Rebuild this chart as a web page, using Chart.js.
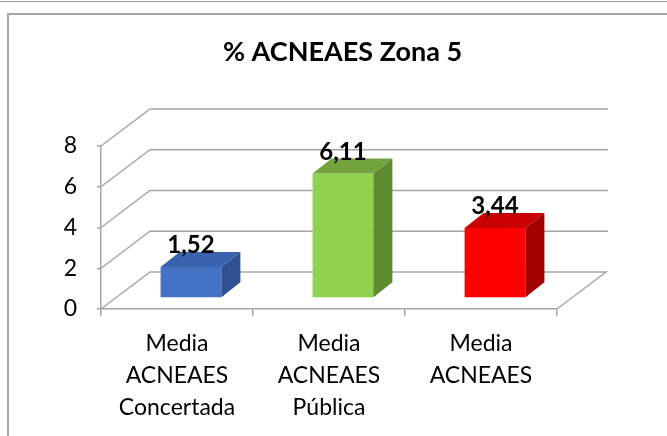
<!DOCTYPE html>
<html>
<head>
<meta charset="utf-8">
<script src="https://cdn.jsdelivr.net/npm/chart.js@4/dist/chart.umd.min.js"></script>
<style>
  html, body { margin: 0; padding: 0; background: #fff; }
  #wrap { position: relative; width: 667px; height: 436px; overflow: hidden; }
  #topline { position: absolute; left: 0; top: 1px; width: 667px; height: 1px; background: #9a9a9a; }
  #frame { position: absolute; left: 7px; top: 13px; width: 700px; height: 500px;
           border-left: 2px solid #a6a6a6; border-top: 2px solid #a6a6a6; }
  canvas { position: absolute; left: 0; top: 0; }
</style>
</head>
<body>
<div id="wrap">
  <div id="topline"></div>
  <div id="frame"></div>
  <canvas id="c" width="667" height="436"></canvas>
</div>
<script>
// ---- data ----
const categories = [
  ['Media', 'ACNEAES', 'Concertada'],
  ['Media', 'ACNEAES', 'Pública'],
  ['Media', 'ACNEAES']
];
const values = [1.52, 6.11, 3.44];
const yTicks = [0, 2, 4, 6, 8];
const frontColors = ['#4472C4', '#92D050', '#FF0000'];
const topColors   = ['#3A63AE', '#72A33E', '#C80000'];
const sideColors  = ['#2E5290', '#5E8A31', '#A30000'];

const FONT = 'Lato, "Open Sans", sans-serif';
// 3D geometry
const WALL_DX = 49, WALL_DY = 37;    // depth of the floor/walls
const BAR_OX = 14, BAR_OY = 11;      // bar front face offset from front plane
const BAR_DX = 19, BAR_DY = 15;      // bar depth

const fmt = v => v.toFixed(2).replace('.', ',');

const threeD = {
  id: 'threeD',
  beforeDatasetsDraw(chart) {
    const ctx = chart.ctx;
    const y = chart.scales.y, x = chart.scales.x;
    const L = x.left, R = x.right;
    ctx.save();
    ctx.strokeStyle = '#a6a6a6';
    ctx.lineWidth = 1.5;
    yTicks.forEach(v => {
      const yf = y.getPixelForValue(v);
      ctx.beginPath();
      ctx.moveTo(L, yf);
      ctx.lineTo(L + WALL_DX, yf - WALL_DY);
      ctx.lineTo(R + WALL_DX + (v === 0 ? 0 : 2), yf - WALL_DY);
      if (v === 0) ctx.lineTo(R, yf);
      ctx.stroke();
    });
    ctx.restore();
    ctx.save();
    ctx.translate(BAR_OX, -BAR_OY);
  },
  afterDatasetsDraw(chart) {
    const ctx = chart.ctx;
    ctx.restore();
    const meta = chart.getDatasetMeta(0);
    ctx.save();
    meta.data.forEach((bar, i) => {
      const x1 = bar.x - bar.width / 2 + BAR_OX;
      const x2 = bar.x + bar.width / 2 + BAR_OX;
      const yt = bar.y - BAR_OY;
      const yb = bar.base - BAR_OY;
      // top face
      ctx.fillStyle = topColors[i];
      ctx.beginPath();
      ctx.moveTo(x1, yt);
      ctx.lineTo(x1 + BAR_DX, yt - BAR_DY);
      ctx.lineTo(x2 + BAR_DX, yt - BAR_DY);
      ctx.lineTo(x2, yt);
      ctx.closePath();
      ctx.fill();
      // side face
      ctx.fillStyle = sideColors[i];
      ctx.beginPath();
      ctx.moveTo(x2, yt);
      ctx.lineTo(x2 + BAR_DX, yt - BAR_DY);
      ctx.lineTo(x2 + BAR_DX, yb - BAR_DY);
      ctx.lineTo(x2, yb);
      ctx.closePath();
      ctx.fill();
      // value label
      ctx.fillStyle = '#000';
      ctx.font = 'bold 24px ' + FONT;
      ctx.textAlign = 'center';
      ctx.textBaseline = 'alphabetic';
      ctx.fillText(fmt(values[i]), bar.x + BAR_OX, yt - BAR_DY + 1);
    });
    ctx.restore();
  }
};

new Chart(document.getElementById('c'), {
  type: 'bar',
  data: {
    labels: categories,
    datasets: [{
      data: values,
      backgroundColor: frontColors,
      borderWidth: 0,
      barPercentage: 0.4,
      categoryPercentage: 1.0
    }]
  },
  options: {
    responsive: false,
    animation: false,
    devicePixelRatio: 1,
    layout: { padding: { left: 18, right: 0, top: 0, bottom: 0 } },
    plugins: {
      legend: { display: false },
      tooltip: { enabled: false },
      title: {
        display: true,
        text: '% ACNEAES Zona 5',
        color: '#000',
        font: { family: FONT, size: 27, weight: 'bold', lineHeight: 1.2 },
        padding: { top: 36, bottom: 77.6 }
      }
    },
    scales: {
      x: {
        grid: { display: true, drawOnChartArea: false, drawTicks: true, tickLength: 7,
                color: '#a6a6a6', lineWidth: 1.5, offset: true },
        border: { display: true, color: '#a6a6a6', width: 1.5 },
        ticks: { color: '#000', font: { family: FONT, size: 23, lineHeight: 1.39 },
                 padding: 12, maxRotation: 0, autoSkip: false },
        afterFit(s) { s.height = 127; }
      },
      y: {
        min: 0, max: 8,
        afterBuildTicks(s) { s.ticks = yTicks.map(v => ({ value: v })); },
        grid: { display: true, drawOnChartArea: false, drawTicks: true, tickLength: 4,
                color: '#a6a6a6', lineWidth: 1.5 },
        border: { display: true, color: '#a6a6a6', width: 1.5 },
        ticks: { color: '#000', font: { family: FONT, size: 23 }, padding: 20 },
        afterFit(s) { s.width = 83; }
      },
      yRightSpace: {
        type: 'linear',
        position: 'right',
        display: true,
        grid: { display: false, drawTicks: false },
        border: { display: false },
        ticks: { display: false },
        afterFit(s) { s.width = 110; }
      }
    }
  },
  plugins: [threeD]
});
</script>
</body>
</html>
